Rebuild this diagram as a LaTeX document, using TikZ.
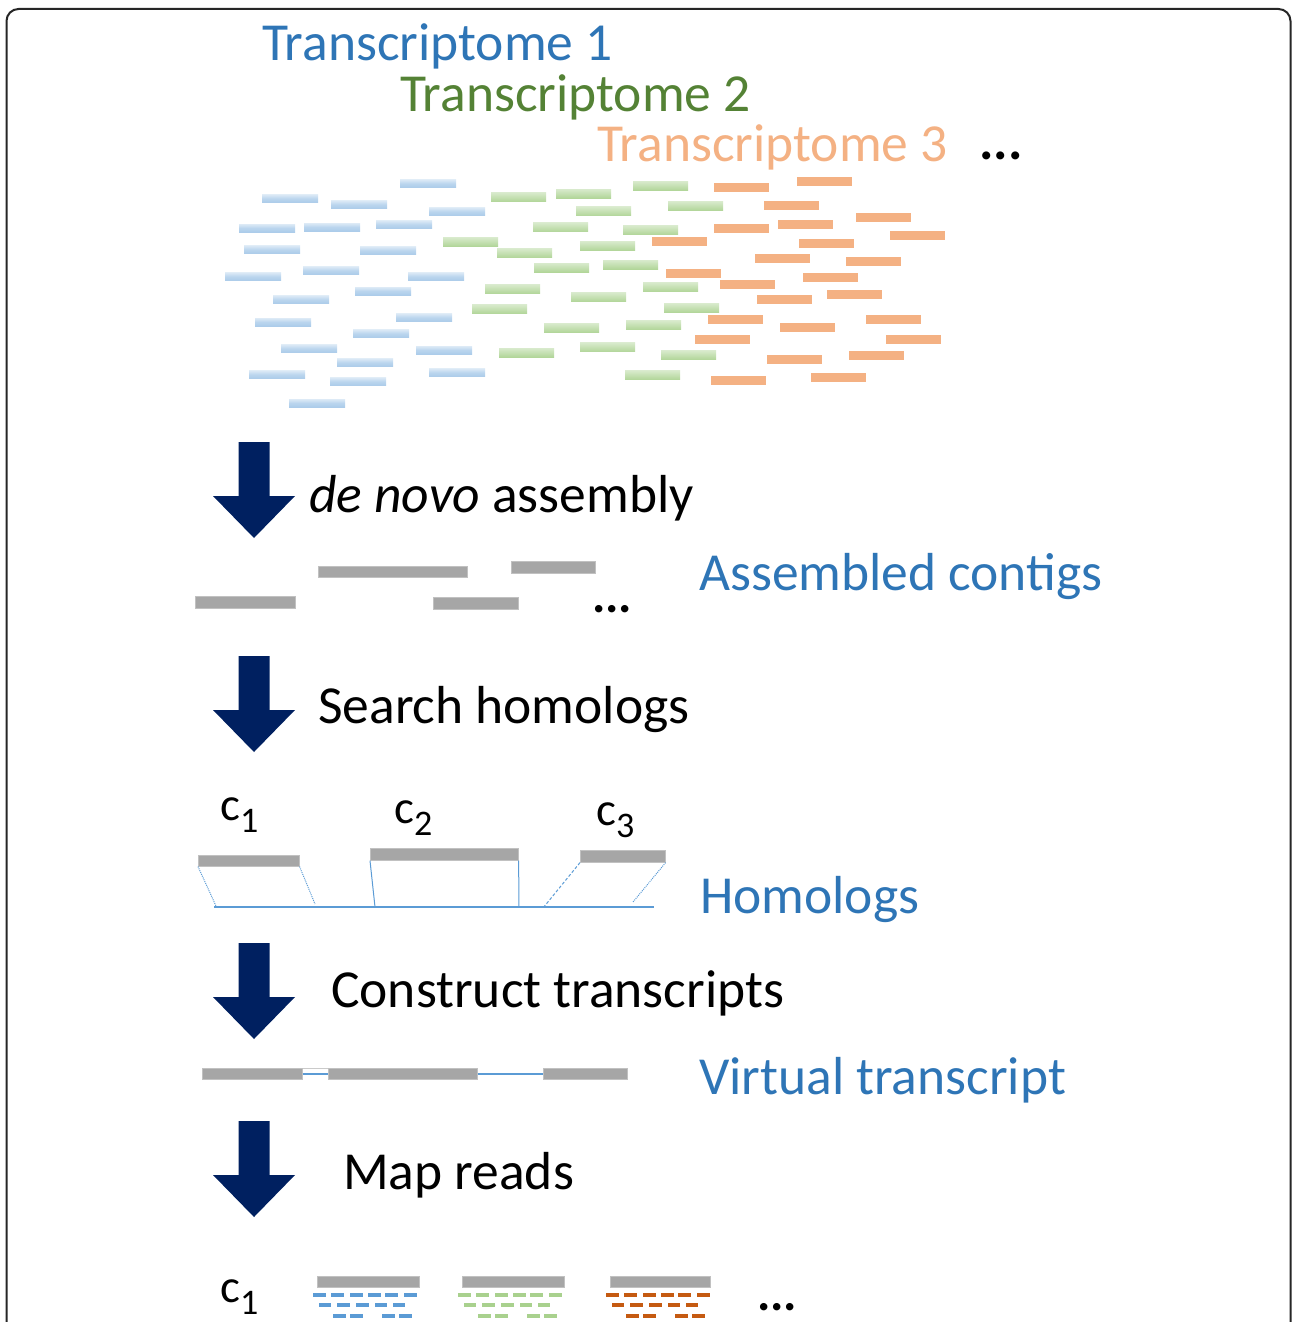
\documentclass[tikz,border=0pt]{standalone}
\usepackage{fontspec}
\setmainfont{Carlito}
\definecolor{tblue}{HTML}{2E75B6}
\definecolor{tgreen}{HTML}{548235}
\definecolor{torange}{HTML}{F4B183}
\definecolor{navyarrow}{HTML}{002060}
\definecolor{contig}{HTML}{A6A6A6}
\definecolor{lblue}{HTML}{5B9BD5}
\definecolor{rblue}{HTML}{9DC3E6}
\definecolor{dgreen}{HTML}{A9D18E}
\definecolor{dorange}{HTML}{C55A11}
\newcommand{\bigtxt}{\fontsize{53.5}{64}\selectfont}
\newcommand{\clab}[1]{{\fontsize{47}{54}\selectfont c\raisebox{-12pt}{\fontsize{36}{42}\selectfont #1}}}
\tikzset{
  lbl/.style={anchor=base west, inner sep=0pt, font=\bigtxt},
  dots/.style={anchor=base west, inner sep=0pt, font=\fontsize{#1}{#1}\selectfont\bfseries},
  cbar/.style={fill=contig, draw=contig!70, line width=0.6, inner sep=0pt, anchor=north west},
  hl/.style={draw=lblue, line width=1},
  downarrow/.pic={\fill[navyarrow] (-15.5,0) -- (15.5,0) -- (15.5,54) -- (41,54) -- (0,96) -- (-41,54) -- (-15.5,54) -- cycle;}
}
\begin{document}
\begin{tikzpicture}[x=1pt,y=-1pt]
\useasboundingbox (0,0) rectangle (1292,1322);
% frame
\draw[line width=2, black!85, rounded corners=12] (6.5,1322) -- (6.5,9) -- (1290.5,9) -- (1290.5,1322);

% titles
\node[lbl, text=tblue] (t1) at (262,61) {Transcriptome 1};
\node[lbl, text=tgreen] (t2) at (400,111) {Transcriptome 2};
\node[lbl, text=torange] (t3) at (597,161) {Transcriptome 3};
\node[dots=54] (tdots) at (979,159) {...};

% short reads, blue
\foreach \x/\y in {400/183.5, 262/198.5, 331/204.5, 429/211.5, 239/228, 304/227, 376/224.5,
  244/249.5, 360/250.5, 225/276.5, 303/270.5, 408/276.5, 355/291, 273/299.5, 255/322,
  396/317.5, 353/333.5, 281/348.5, 416/350, 337/362.5, 249/374.5, 330/381.5, 429/372.5, 289/403}
  {\shade[top color=rblue!35, bottom color=rblue!85, middle color=rblue!70] (\x,\y-4) rectangle ++(56,8);}
% short reads, green
\foreach \x/\y in {491/197, 556/193.5, 633/185.7, 576/211.3, 668/205.8, 533/227.3, 623/230,
  443/241.7, 497/253, 580/245.8, 534/267.5, 603/264.5, 485/289, 571/297, 643/287, 472/309,
  664/307.8, 544/327.8, 626/325, 499/352.5, 580/347.3, 661/355, 625/375}
  {\shade[top color=dgreen!45, bottom color=dgreen!90] (\x,\y-4.5) rectangle ++(55,9);}
% short reads, orange
\foreach \x/\y in {714/187, 797/181.3, 764/205.7, 856/217, 714/228.5, 778/224.3, 890/235.7,
  652/241.7, 799/243, 755/258.7, 846/261.5, 666/273, 803/277.5, 720/284.7, 827/294.8,
  757/299, 708/319, 866/319, 780/327, 695/339, 886/339, 767/359, 849/355, 711/380.8, 811/377}
  {\fill[torange] (\x,\y-4.5) rectangle ++(55,9);}

% step 1
\pic at (254,442) {downarrow};
\node[lbl] (s1) at (309,512) {\itshape de novo\upshape{} assembly};
\node[cbar, minimum width=149, minimum height=11] (a1) at (318,566) {};
\node[cbar, minimum width=84, minimum height=12] (a2) at (511,561) {};
\node[cbar, minimum width=100, minimum height=12] (a3) at (195,596) {};
\node[cbar, minimum width=85, minimum height=12] (a4) at (433,597) {};
\node[dots=50] (adots) at (592,612) {...};
\node[lbl, text=tblue] (lab1) at (699,590) {Assembled contigs};

% step 2
\pic at (254,656) {downarrow};
\node[lbl] (s2) at (318,723) {Search homologs};
\node[anchor=base west, inner sep=0pt] (c1) at (220,820) {\clab{1}};
\node[anchor=base west, inner sep=0pt] (c2) at (394,823) {\clab{2}};
\node[anchor=base west, inner sep=0pt] (c3) at (596,825) {\clab{3}};
\node[cbar, minimum width=101, minimum height=11] (h1) at (198,855) {};
\node[cbar, minimum width=148, minimum height=12] (h2) at (370,848) {};
\node[cbar, minimum width=85, minimum height=12] (h3) at (580,850) {};
\coordinate (bl) at (214,907);
\coordinate (br) at (654,907);
\coordinate (b1) at (216,906);
\coordinate (b2) at (315,904);
\coordinate (b3) at (375,907);
\coordinate (b4) at (519,907);
\coordinate (b5) at (543,908);
\coordinate (b6) at (633,902);
\draw[hl, line width=1.5] (bl) -- (br);
\draw[hl, densely dotted] (h1.south west) -- (b1);
\draw[hl, densely dotted] (h1.south east) -- (b2);
\draw[hl] (h2.south west) -- (b3);
\draw[hl] (h2.south east) -- (b4);
\draw[hl, densely dashed] (h3.south west) -- (b5);
\draw[hl, densely dotted] (h3.south east) -- (b6);
\node[lbl, text=tblue] (lab2) at (700,913) {Homologs};

% step 3
\pic at (254,943) {downarrow};
\node[lbl] (s3) at (331,1007) {Construct transcripts};
\node[cbar, minimum width=100, minimum height=11] (v1) at (202,1068) {};
\node[cbar, minimum width=149, minimum height=11] (v2) at (328,1068) {};
\node[cbar, minimum width=84, minimum height=11] (v3) at (543,1068) {};
\draw[contig!60, line width=0.8] (v1.north east) -- (v2.north west);
\draw[draw=lblue, line width=2] ([yshift=-0.5]v1.east) -- ([yshift=-0.5]v2.west);
\draw[draw=lblue, line width=2] ([yshift=-0.5]v2.east) -- ([yshift=-0.5]v3.west);
\node[lbl, text=tblue] (lab3) at (699,1094) {Virtual transcript};

% step 4
\pic at (254,1121) {downarrow};
\node[lbl] (s4) at (343,1189) {Map reads};
\node[anchor=base west, inner sep=0pt] (c1b) at (220,1302) {\clab{1}};
\foreach \L/\w/\col [count=\i] in {317/102/lblue, 462/102/dgreen, 610/100/dorange}{
  \node[cbar, minimum width=\w, minimum height=11] (m\i) at (\L,1276) {};
  \foreach \o in {-4,13.8,32.8,50.6,68.4,87}
    {\fill[\col] (\L+\o,1292.7) rectangle ++(13,4);}
  \foreach \o in {1.5,20,39,57.5,75.5}
    {\fill[\col] (\L+\o,1303.3) rectangle ++(12.5,4);}
  \foreach \o in {16,33,65,82}
    {\fill[\col] (\L+\o,1314) rectangle ++(12.5,4);}
}
\node[dots=50] (mdots) at (757,1310) {...};
\end{tikzpicture}
\end{document}
